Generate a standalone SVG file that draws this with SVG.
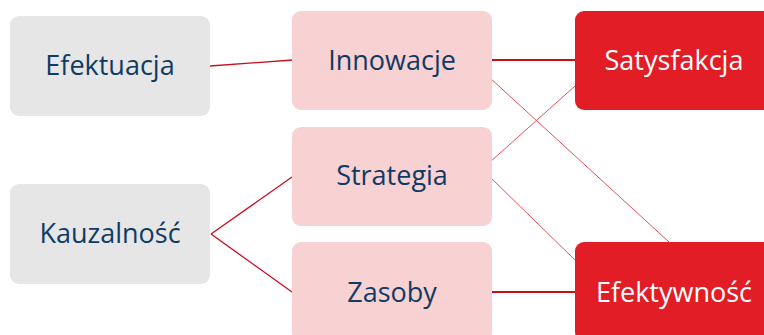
<svg xmlns="http://www.w3.org/2000/svg" width="764" height="335" viewBox="0 0 764 335">
<style>
.grey{fill:#E6E6E6}
.pink{fill:#F8D1D3}
.red{fill:#E21D25}
.t{font-family:"Open Sans","Noto Sans","Liberation Sans",sans-serif;font-size:27px;text-anchor:middle}
.dark{fill:#0F3A64}
.light{fill:#FFFFFF}
.thick{stroke:#C8101E;stroke-width:2;fill:none}
.mid{stroke:#C8101E;stroke-width:1.3;fill:none}
.thin{stroke:#E8505A;stroke-width:1;fill:none}
</style>
<g id="connectors">
<line class="mid" x1="210" y1="66" x2="292" y2="60"/>
<line class="thick" x1="492" y1="60" x2="575" y2="60"/>
<line class="thin" x1="490" y1="78" x2="669" y2="242"/>
<line class="thin" x1="490" y1="162" x2="575" y2="86"/>
<line class="thin" x1="490" y1="177" x2="575" y2="260"/>
<line class="thick" x1="492" y1="292" x2="575" y2="292"/>
<line class="mid" x1="211" y1="234" x2="292" y2="177"/>
<line class="mid" x1="211" y1="234" x2="292" y2="292"/>
</g>
<g id="efektuacja">
<rect class="grey" x="10" y="16" width="200" height="100" rx="9"/>
<text class="t dark" x="110" y="75">Efektuacja</text>
</g>
<g id="kauzalnosc">
<rect class="grey" x="10" y="184" width="200" height="100" rx="9"/>
<text class="t dark" x="110" y="243">Kauzalność</text>
</g>
<g id="innowacje">
<rect class="pink" x="292" y="11" width="200" height="99" rx="9"/>
<text class="t dark" x="392" y="70">Innowacje</text>
</g>
<g id="strategia">
<rect class="pink" x="292" y="127" width="200" height="99" rx="9"/>
<text class="t dark" x="392" y="185">Strategia</text>
</g>
<g id="zasoby">
<rect class="pink" x="292" y="242" width="200" height="99" rx="9"/>
<text class="t dark" x="392" y="302">Zasoby</text>
</g>
<g id="satysfakcja">
<rect class="red" x="575" y="11" width="200" height="99" rx="9"/>
<text class="t light" x="674" y="70">Satysfakcja</text>
</g>
<g id="efektywnosc">
<rect class="red" x="575" y="242" width="200" height="99" rx="9"/>
<text class="t light" x="674" y="302">Efektywność</text>
</g>
</svg>
